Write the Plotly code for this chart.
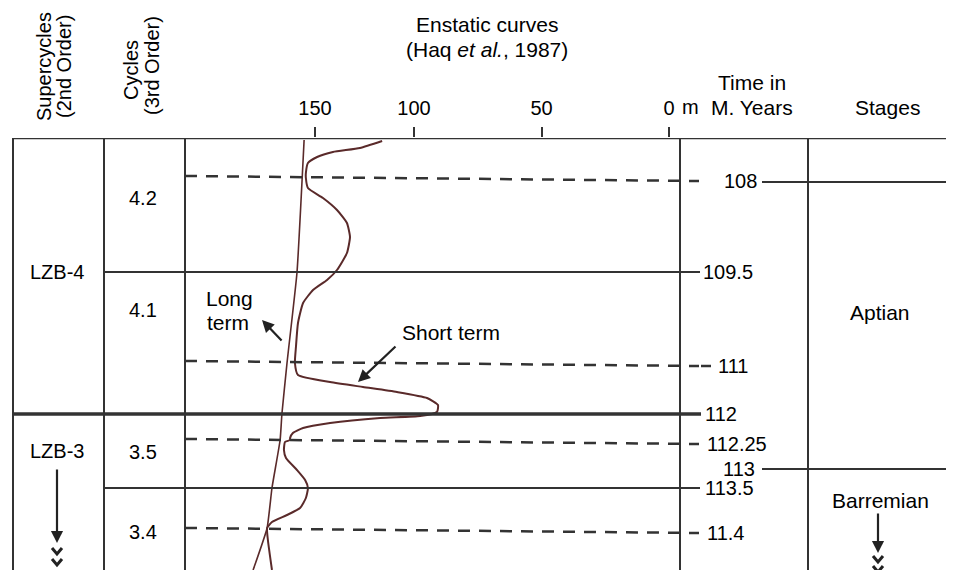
import plotly.graph_objects as go

# the page body adds an 8px margin; build the figure so the picture lands at reference pixels
OFF = 8
W, H = 954 - OFF, 570 - OFF
REF_H = 570
TOP = 138  # reference pixel row of the top border of the column table

# ---------------- data ----------------
# Eustatic curves: sea level (m) versus position down the column (chart units)
long_term_m = [143.1, 145.9, 149.8, 151.8, 152.5, 155.7, 157.6, 163.1]
long_term_pos = [2, 135, 225, 276, 302, 350, 390, 432]

short_term_m = [112.5, 121.2, 131.8, 138.0, 141.6, 142.4, 142.4, 141.6, 135.7, 130.2,
                126.3, 125.1, 126.3, 130.2, 134.1, 139.6, 143.5, 145.5, 146.3, 146.7,
                145.5, 132.9, 120.0, 106.7, 94.9, 90.6, 91.0, 97.6, 113.3, 132.9,
                143.5, 147.5, 148.6, 148.6, 150.6, 151.0, 150.2, 145.9, 142.7, 141.6,
                142.4, 144.7, 149.8, 155.7, 157.6, 157.3, 155.7]
short_term_pos = [3, 10, 14, 19, 25, 35, 40, 50, 60, 72,
                  85, 99, 115, 132, 142, 152, 165, 185, 209, 225,
                  237, 244, 249, 254, 260, 267, 274, 278, 280, 285,
                  290, 295, 300, 302, 304, 312, 320, 332, 342, 350,
                  360, 370, 377, 384, 390, 402, 432]

sea_level_tickvals = [138.8, 100, 50, 0]
sea_level_ticktext = ["150", "100", "50", "0"]

time_labels = ["108", "109.5", "111", "112", "112.25", "113", "113.5", "11.4"]
time_pos = [43, 134, 228, 276, 306, 331, 350, 395]
time_kind = ["dash", "solid", "dash", "thick", "dash", "stage", "solid", "dash"]

supercycles = ["LZB-4", "LZB-3"]
supercycle_pos = [134, 313]
cycles = ["4.2", "4.1", "3.5", "3.4"]
cycle_pos = [60, 172, 314, 394]
stages = ["Aptian", "Barremian"]
stage_pos = [174, 362]

# ---------------- layout helpers ----------------
def px(x):
    return (x - OFF) / W


def py(y):
    return 1 - (y - OFF) / H


FONT = "Liberation Sans, Arial, sans-serif"
LINE = "#333333"
CURVE = "#5a2a2a"
FS = 20
FS_BIG = 21

COL_X = [13, 104, 185, 680, 808]
RIGHT = 956
# label placement for the time labels: (x pixel, anchor)
time_label_place = [(740, "center"), (701, "left"), (716, "left"), (703, "left"),
                    (705, "left"), (757, "right"), (703, "left"), (705, "left")]

fig = go.Figure()

fig.add_trace(go.Scatter(x=long_term_m, y=long_term_pos, mode="lines",
                         line=dict(color=CURVE, width=1.6, shape="spline", smoothing=0.4),
                         hoverinfo="skip", showlegend=False))
fig.add_trace(go.Scatter(x=short_term_m, y=short_term_pos, mode="lines",
                         line=dict(color=CURVE, width=2, shape="spline", smoothing=0.5),
                         hoverinfo="skip", showlegend=False))

shapes = []
# vertical column borders
for x in COL_X:
    shapes.append(dict(type="line", xref="paper", yref="paper", x0=px(x), x1=px(x),
                       y0=0, y1=py(TOP), line=dict(color=LINE, width=2)))
# top border
shapes.append(dict(type="line", xref="paper", yref="y", x0=px(13), x1=px(RIGHT), y0=0, y1=0,
                   line=dict(color=LINE, width=2.5)))

for lab, p, kind in zip(time_labels, time_pos, time_kind):
    if kind == "dash":
        shapes.append(dict(type="line", xref="paper", yref="y", x0=px(185), x1=px(699),
                           y0=p - 5, y1=p, line=dict(color=LINE, width=2.5, dash="12px,9px")))
        if lab == "111":
            shapes.append(dict(type="line", xref="paper", yref="y", x0=px(701), x1=px(711),
                               y0=p, y1=p, line=dict(color=LINE, width=2.5)))
    elif kind == "solid":
        shapes.append(dict(type="line", xref="paper", yref="y", x0=px(104), x1=px(700),
                           y0=p, y1=p, line=dict(color=LINE, width=2)))
    elif kind == "thick":
        shapes.append(dict(type="line", xref="paper", yref="y", x0=px(13), x1=px(701),
                           y0=p, y1=p, line=dict(color=LINE, width=3.5)))
    elif kind == "stage":
        shapes.append(dict(type="line", xref="paper", yref="y", x0=px(762), x1=px(RIGHT),
                           y0=p, y1=p, line=dict(color=LINE, width=2)))
# stage line at 108
shapes.append(dict(type="line", xref="paper", yref="y", x0=px(762), x1=px(RIGHT),
                   y0=time_pos[0] + 1, y1=time_pos[0] + 1, line=dict(color=LINE, width=2)))

# chevrons below the down arrows
for cx, cy in [(57, 552), (57, 563), (878, 560), (878, 570)]:
    path = (f"M {px(cx-5)},{py(cy-4)} L {px(cx)},{py(cy+2)} L {px(cx+5)},{py(cy-4)}")
    shapes.append(dict(type="path", xref="paper", yref="paper", path=path,
                       line=dict(color="#222", width=3)))

ann = []


def text(t, x, y, xanchor="center", yref="paper", angle=0, size=FS):
    ann.append(dict(text=t, x=px(x), y=(py(y) if yref == "paper" else y), xref="paper",
                    yref=yref, xanchor=xanchor, yanchor="middle", showarrow=False,
                    textangle=angle, font=dict(family=FONT, size=size, color="black")))


text("Supercycles", 44, 67, angle=-90)
text("(2nd Order)", 64, 67, angle=-90)
text("Cycles", 131, 70, angle=-90)
text("(3rd Order)", 152, 66, angle=-90)
text("Enstatic curves", 487, 25, size=FS_BIG)
text("(Haq <i>et al.</i>, 1987)", 487, 50, size=FS_BIG)
text("m", 690, 107)
text("Time in", 752, 83, size=FS_BIG)
text("M. Years", 752, 107, size=FS_BIG)
text("Stages", 887, 107, size=FS_BIG)
text("Long", 204, 298, xanchor="left", size=FS_BIG)
text("term", 205, 322, xanchor="left", size=FS_BIG)
text("Short term", 451, 332, size=FS_BIG)

for lab, p, (lx, anc) in zip(time_labels, time_pos, time_label_place):
    text(lab, lx, p, xanchor=anc, yref="y")
for lab, p in zip(supercycles, supercycle_pos):
    text(lab, 57, p, yref="y")
for lab, p in zip(cycles, cycle_pos):
    text(lab, 143, p, yref="y")
for lab, p in zip(stages, stage_pos):
    text(lab, 880, p, yref="y", size=FS_BIG)

# arrows
for (hx, hy, tx, ty) in [(262, 320, 283, 342), (358, 382, 397, 345),
                         (57, 543, 57, 468), (878, 553, 878, 512)]:
    ann.append(dict(text="", x=px(hx), y=py(hy), xref="paper", yref="paper",
                    ax=tx - hx, ay=ty - hy, showarrow=True, arrowhead=2, arrowsize=1.1,
                    arrowwidth=2.2, arrowcolor="#222"))

fig.update_layout(
    width=W, height=H, margin=dict(l=0, r=0, t=0, b=0),
    paper_bgcolor="white", plot_bgcolor="rgba(0,0,0,0)",
    shapes=shapes, annotations=ann, showlegend=False,
    xaxis=dict(domain=[px(185), px(680)], range=[(669 - 185) / 2.55, (669 - 680) / 2.55],
               side="top", showgrid=False, zeroline=False, showline=False,
               ticks="outside", ticklen=10, tickwidth=2, tickcolor=LINE,
               tickvals=sea_level_tickvals, ticktext=sea_level_ticktext,
               tickfont=dict(family=FONT, size=FS, color="black"), ticklabelstandoff=4,
               fixedrange=True),
    yaxis=dict(domain=[0, py(TOP)], range=[REF_H - TOP, 0], visible=False, fixedrange=True),
)

fig.write_html("out.html")
